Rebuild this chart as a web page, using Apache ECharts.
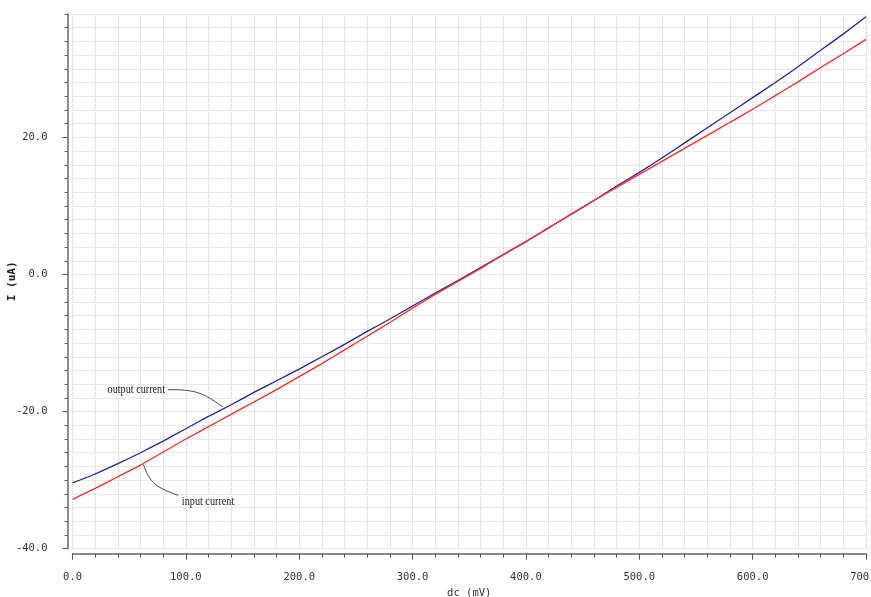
<!DOCTYPE html>
<html>
<head>
<meta charset="utf-8">
<title>DC sweep: input and output current</title>
<script src="https://cdn.jsdelivr.net/npm/echarts@6/dist/echarts.min.js"></script>
<style>
  html, body { margin: 0; padding: 0; background: #ffffff; }
  #chart { width: 871px; height: 597px; }
</style>
</head>
<body>
<div id="chart"></div>
<script>
// DC sweep voltage (mV)
const sweepMv = [0, 20, 40, 60, 80, 100, 120, 140, 160, 180, 200, 220, 240, 260, 280, 300, 320, 340,
                 360, 380, 400, 420, 440, 460, 480, 500, 520, 540, 560, 580, 600, 620, 640, 660, 680, 700];

// Output current (uA)
const outputCurrent = [-30.4, -29.1, -27.6, -26.0, -24.3, -22.5, -20.7, -19.0, -17.2, -15.5, -13.8, -12.0,
                       -10.2, -8.3, -6.5, -4.6, -2.7, -0.9, 1.0, 2.9, 4.8, 6.8, 8.8, 10.8,
                       12.9, 14.9, 17.0, 19.2, 21.4, 23.6, 25.8, 28.0, 30.3, 32.7, 35.1, 37.6];

// Input current (uA)
const inputCurrent = [-32.8, -31.2, -29.5, -27.8, -25.9, -24.0, -22.2, -20.4, -18.6, -16.8, -14.9, -13.0,
                      -11.0, -9.0, -7.0, -4.9, -2.9, -1.0, 0.9, 2.9, 4.8, 6.8, 8.8, 10.8,
                      12.7, 14.6, 16.5, 18.4, 20.3, 22.2, 24.1, 26.1, 28.1, 30.2, 32.2, 34.3];

// Labelled y ticks (uA)
const yMajorTicks = [-40, -20, 0, 20];

// Points on each trace where the callout leaders attach [mV, uA]
const outputCalloutAt = [132.8, -19.3];
const inputCalloutAt = [62.5, -27.7];

const Y_MIN = -40, Y_MAX = 38;
const tickFont = 'DejaVu Sans Mono';
const gridDots = { color: '#d2d2d2', width: 1, type: [1, 1] };

const chart = echarts.init(document.getElementById('chart'), null, { renderer: 'canvas' });

const option = {
  backgroundColor: '#ffffff',
  animation: false,
  grid: { left: 72.5, right: 5, top: 14, bottom: 48.3, containLabel: false, outerBoundsMode: 'none' },
  xAxis: {
    type: 'value',
    min: 0, max: 700, interval: 100,
    offset: 5,
    name: 'dc (mV)',
    nameLocation: 'middle',
    nameGap: 32,
    nameTextStyle: { fontFamily: tickFont, fontSize: 10.5, color: '#333' },
    axisLine: { show: true, onZero: false, lineStyle: { color: '#666', width: 1.5 } },
    axisTick: { show: true, inside: false, length: 6, lineStyle: { color: '#555' } },
    minorTick: { show: true, splitNumber: 5, length: 4, lineStyle: { color: '#555' } },
    axisLabel: {
      margin: 18, fontFamily: tickFont, fontSize: 10.5, color: '#333',
      formatter: v => v.toFixed(1)
    },
    splitLine: { show: true, lineStyle: gridDots },
    minorSplitLine: { show: true, lineStyle: gridDots }
  },
  yAxis: [
    {
      // labelled axis with the long ticks
      type: 'value',
      min: Y_MIN, max: Y_MAX, interval: 20,
      position: 'left',
      offset: 5,
      name: 'I (uA)',
      nameLocation: 'middle',
      nameGap: 50,
      nameMoveOverlap: false,
      nameTextStyle: { fontFamily: tickFont, fontSize: 11, fontWeight: 'bold', color: '#222' },
      axisLine: { show: true, onZero: false, lineStyle: { color: '#666', width: 1.5 } },
      axisTick: { show: true, inside: false, length: 5, customValues: yMajorTicks, lineStyle: { color: '#555' } },
      axisLabel: {
        margin: 20, fontFamily: tickFont, fontSize: 10.5, color: '#333',
        customValues: yMajorTicks,
        formatter: v => v.toFixed(1)
      },
      splitLine: { show: false }
    },
    {
      // short ticks and the horizontal dotted grid every 2 uA
      type: 'value',
      min: Y_MIN, max: Y_MAX, interval: 2,
      position: 'left',
      offset: 5,
      axisLine: { show: false, onZero: false },
      axisTick: { show: true, inside: false, length: 3, lineStyle: { color: '#555' } },
      axisLabel: { show: false },
      splitLine: { show: true, lineStyle: gridDots }
    }
  ],
  series: [
    {
      name: 'output current',
      type: 'line',
      yAxisIndex: 0,
      data: sweepMv.map((v, i) => [v, outputCurrent[i]]),
      showSymbol: false,
      smooth: 0.2,
      lineStyle: { color: '#24249c', width: 1.3 },
      z: 3
    },
    {
      name: 'input current',
      type: 'line',
      yAxisIndex: 0,
      data: sweepMv.map((v, i) => [v, inputCurrent[i]]),
      showSymbol: false,
      smooth: 0.2,
      lineStyle: { color: '#ff2a2a', width: 1.3 },
      z: 4
    }
  ]
};

chart.setOption(option);

// Callout labels with curved leaders, anchored on the traces
const outAt = chart.convertToPixel({ xAxisIndex: 0, yAxisIndex: 0 }, outputCalloutAt);
const inAt = chart.convertToPixel({ xAxisIndex: 0, yAxisIndex: 0 }, inputCalloutAt);
const calloutFont = { fontFamily: 'Liberation Serif', fontSize: 12, fill: '#222' };

chart.setOption({
  graphic: [
    {
      type: 'group', x: outAt[0], y: outAt[1], z: 10,
      children: [
        {
          type: 'bezierCurve',
          shape: { x1: -55, y1: -17, x2: 0, y2: 0, cpx1: -22, cpy1: -18, cpx2: -16, cpy2: -10 },
          style: { stroke: '#4a4a4a', lineWidth: 1, fill: null }
        },
        {
          type: 'text', x: -58, y: -17, scaleX: 0.85,
          style: Object.assign({ text: 'output current', align: 'right', verticalAlign: 'middle' }, calloutFont)
        }
      ]
    },
    {
      type: 'group', x: inAt[0], y: inAt[1], z: 10,
      children: [
        {
          type: 'bezierCurve',
          shape: { x1: 0, y1: 0, x2: 35, y2: 31, cpx1: 6, cpy1: 16, cpx2: 9, cpy2: 22 },
          style: { stroke: '#4a4a4a', lineWidth: 1, fill: null }
        },
        {
          type: 'text', x: 38.5, y: 37, scaleX: 0.85,
          style: Object.assign({ text: 'input current', align: 'left', verticalAlign: 'middle' }, calloutFont)
        }
      ]
    }
  ]
});
</script>
</body>
</html>
